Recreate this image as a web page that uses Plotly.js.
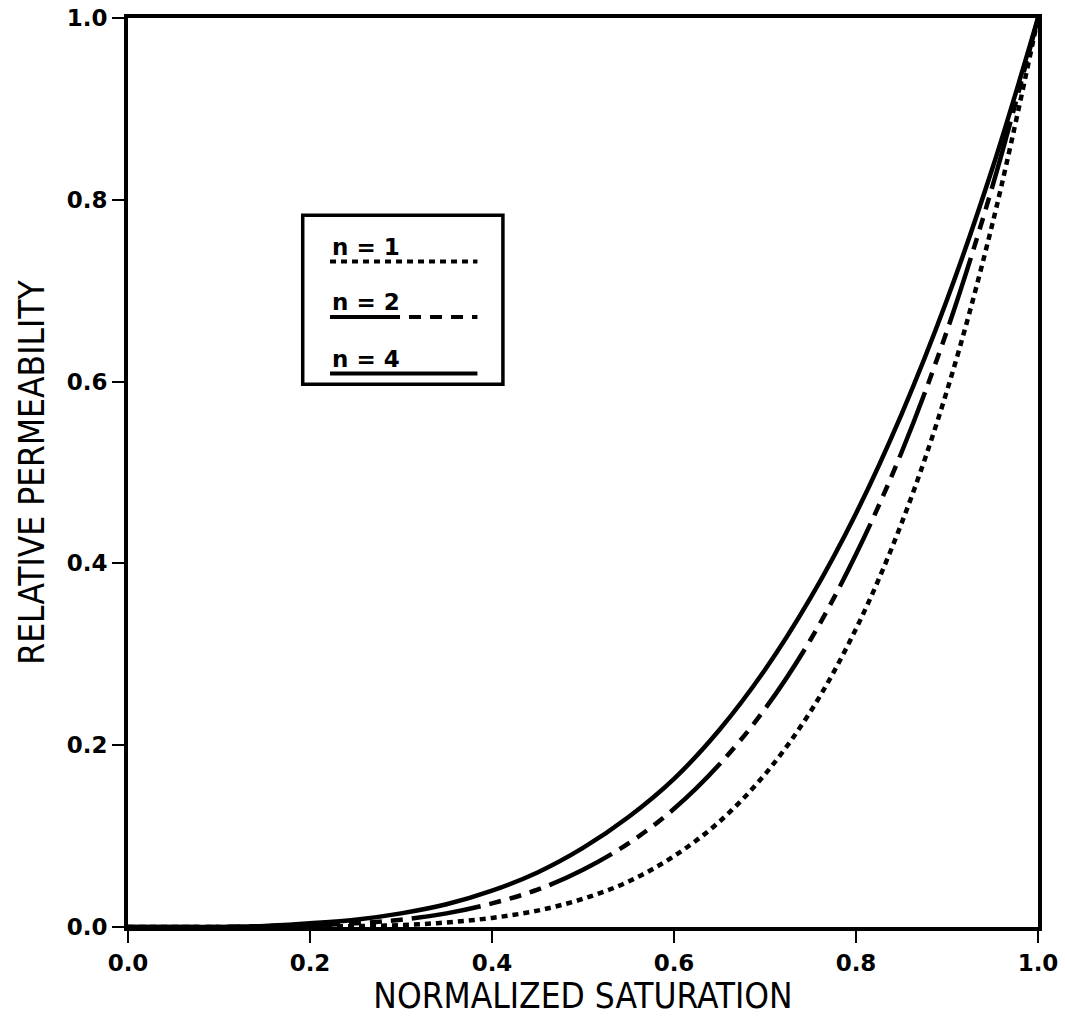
<!DOCTYPE html>
<html>
<head>
<meta charset="utf-8">
<script src="https://cdn.plot.ly/plotly-3.0.1.min.js"></script>
<style>html,body{margin:0;padding:0;background:#fff;}#chart{width:1065px;height:1026px;}</style>
</head>
<body>
<div id="chart"></div>
<script>
// Normalized saturation values
var saturation = [0, 0.05, 0.10, 0.15, 0.20, 0.25, 0.30, 0.35, 0.40, 0.45, 0.50, 0.55, 0.60, 0.65, 0.70, 0.75, 0.80, 0.85, 0.90, 0.95, 1.00];
// Relative permeability
var kr_n1 = [0, 0, 0, 0, 0.000, 0.001, 0.002, 0.005, 0.010, 0.018, 0.031, 0.050, 0.078, 0.116, 0.168, 0.237, 0.328, 0.444, 0.590, 0.774, 1.0];
var kr_n2 = [0, 0, 0, 0.001, 0.002, 0.004, 0.008, 0.015, 0.026, 0.041, 0.063, 0.092, 0.130, 0.179, 0.240, 0.316, 0.410, 0.522, 0.656, 0.815, 1.0];
var kr_n4 = [0, 0, 0, 0.001, 0.004, 0.008, 0.015, 0.025, 0.040, 0.060, 0.087, 0.121, 0.163, 0.217, 0.283, 0.362, 0.455, 0.564, 0.690, 0.835, 1.0];
var seriesNames = ["n = 1", "n = 2", "n = 4"];
var tickVals = [0, 0.2, 0.4, 0.6, 0.8, 1.0];
var tickText = ["0.0", "0.2", "0.4", "0.6", "0.8", "1.0"];

var dashN1 = "6px,5px";
var dashN2 = "70px,9px,12px,9px,12px,9px,12px,9px";

var traces = [
  {x: saturation, y: kr_n1, name: seriesNames[0], mode: "lines",
   line: {color: "#000", width: 4.5, dash: dashN1, shape: "spline", smoothing: 1}},
  {x: saturation, y: kr_n2, name: seriesNames[1], mode: "lines",
   line: {color: "#000", width: 4.5, dash: dashN2, shape: "spline", smoothing: 1}},
  {x: saturation, y: kr_n4, name: seriesNames[2], mode: "lines",
   line: {color: "#000", width: 4.5, dash: "solid", shape: "spline", smoothing: 1}}
];

var tickFont = {family: "DejaVu Sans, sans-serif", size: 23, color: "#000", weight: "bold"};
var titleFont = {family: "Liberation Sans Narrow, DejaVu Sans Condensed, Liberation Sans, sans-serif", size: 35, color: "#000"};

var legendText = {family: "DejaVu Sans, sans-serif", size: 23, color: "#000", weight: "bold"};

var layout = {
  width: 1065, height: 1026,
  margin: {l: 128, r: 27, t: 18, b: 99},
  paper_bgcolor: "#fff", plot_bgcolor: "#fff",
  showlegend: false,
  xaxis: {
    range: [0, 1], tickvals: tickVals, ticktext: tickText,
    showline: true, linewidth: 4, linecolor: "#000", mirror: true,
    ticks: "outside", ticklen: 12, tickwidth: 2, tickcolor: "#000",
    showgrid: false, zeroline: false, tickfont: tickFont,
    title: {text: "NORMALIZED SATURATION", font: titleFont, standoff: 10}
  },
  yaxis: {
    range: [0, 1], tickvals: tickVals, ticktext: tickText,
    showline: true, linewidth: 4, linecolor: "#000", mirror: true,
    ticks: "outside", ticklen: 12, tickwidth: 2, tickcolor: "#000",
    showgrid: false, zeroline: false, tickfont: tickFont,
    title: {text: "RELATIVE PERMEABILITY", font: titleFont, standoff: 12}
  },
  shapes: [
    {type: "rect", xref: "x", yref: "y", x0: 0.192, x1: 0.412, y0: 0.597, y1: 0.783,
     line: {color: "#000", width: 3.5}, fillcolor: "rgba(0,0,0,0)"},
    {type: "line", xref: "x", yref: "y", x0: 0.222, x1: 0.384, y0: 0.732, y1: 0.732,
     line: {color: "#000", width: 4, dash: dashN1}},
    {type: "line", xref: "x", yref: "y", x0: 0.222, x1: 0.384, y0: 0.671, y1: 0.671,
     line: {color: "#000", width: 4, dash: dashN2}},
    {type: "line", xref: "x", yref: "y", x0: 0.222, x1: 0.384, y0: 0.609, y1: 0.609,
     line: {color: "#000", width: 4, dash: "solid"}}
  ],
  annotations: [
    {xref: "x", yref: "y", x: 0.222, y: 0.748, xanchor: "left", yanchor: "middle",
     text: seriesNames[0], showarrow: false, font: legendText},
    {xref: "x", yref: "y", x: 0.222, y: 0.688, xanchor: "left", yanchor: "middle",
     text: seriesNames[1], showarrow: false, font: legendText},
    {xref: "x", yref: "y", x: 0.222, y: 0.625, xanchor: "left", yanchor: "middle",
     text: seriesNames[2], showarrow: false, font: legendText}
  ]
};

Plotly.newPlot("chart", traces, layout, {displayModeBar: false, staticPlot: true});
</script>
</body>
</html>
